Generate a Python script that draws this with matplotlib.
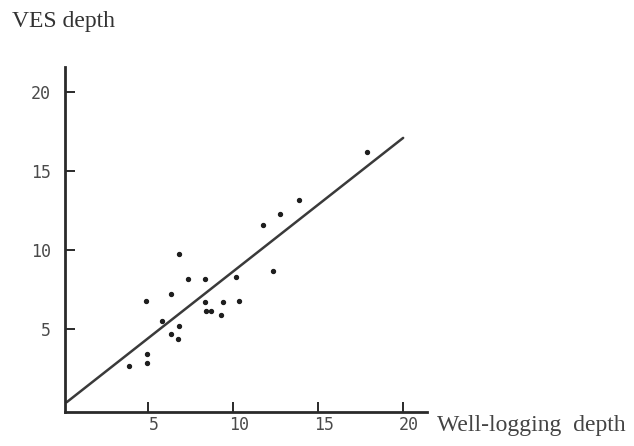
import matplotlib
matplotlib.use("Agg")
import matplotlib.pyplot as plt
from matplotlib.transforms import ScaledTranslation

# Data
well_depth = [11.8, 12.8, 13.9, 17.9, 6.86, 12.37, 7.37, 8.39, 10.16, 4.88, 6.37, 8.35, 9.41,
              10.34, 8.41, 8.75, 9.32, 5.85, 6.86, 6.37, 6.79, 4.98, 4.94, 3.92]
ves_depth = [11.6, 12.3, 13.2, 16.2, 9.79, 8.69, 8.16, 8.16, 8.31, 6.81, 7.22, 6.73, 6.71,
             6.79, 6.16, 6.16, 5.91, 5.55, 5.21, 4.73, 4.39, 3.44, 2.87, 2.66]
fit_x = [0.25, 20.0]
fit_y = [0.4, 17.1]
ticks = [5, 10, 15, 20]
tick_labels = ["5", "10", "15", "20"]

fig = plt.figure(figsize=(6.34, 4.46), dpi=100)
ax = fig.add_axes([0.1025, 0.0769, 0.571, 0.7736])
ink = "#2a2a2a"

ax.plot(fit_x, fit_y, color="#3a3a3a", lw=1.8, solid_capstyle="round")
ax.scatter(well_depth, ves_depth, s=8, color="#1e1e1e", zorder=3)

ax.set_xlim(0.15, 21.4)
ax.set_ylim(-0.2, 21.6)
for s in ["top", "right"]:
    ax.spines[s].set_visible(False)
for s in ["left", "bottom"]:
    ax.spines[s].set_linewidth(2.0)
    ax.spines[s].set_color(ink)

ax.set_xticks(ticks)
ax.set_xticklabels(tick_labels)
ax.set_yticks(ticks)
ax.set_yticklabels(tick_labels)
ax.tick_params(direction="in", length=7, width=1.4, color=ink, labelcolor="#4a4a4a",
               labelsize=12, pad=3)
ax.tick_params(axis="y", pad=10)
for lab in ax.get_xticklabels() + ax.get_yticklabels():
    lab.set_family("DejaVu Sans Mono")
shift = ScaledTranslation(0.06, 0, fig.dpi_scale_trans)
for lab in ax.get_xticklabels():
    lab.set_transform(lab.get_transform() + shift)

fig.text(12 / 634, 1 - 21 / 446, "VES depth", family="Liberation Serif", fontsize=17,
         color="#333333", va="center", ha="left")
fig.text(437 / 634, 1 - 426 / 446, "Well-logging  depth", family="Liberation Serif",
         fontsize=17, color="#444444", va="center", ha="left")

fig.savefig("out.png", dpi=100)
